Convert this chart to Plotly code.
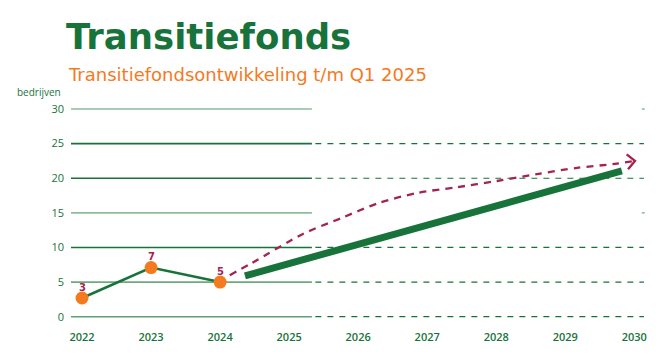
import plotly.graph_objects as go

# ---------------- data ----------------
years_actual = [2022, 2023, 2024]
values_actual = [2.7, 7.1, 5.0]
labels_actual = ["3", "7", "5"]

target_years = [2024.36, 2029.82]
target_values = [5.9, 21.05]

forecast_years = [2024.14, 2024.46, 2025.2, 2025.77, 2026.29, 2026.87, 2027.43,
                  2028.01, 2028.59, 2029.17, 2029.72, 2030.01]
forecast_values = [6.0, 7.75, 11.95, 14.3, 16.4, 17.9, 18.7, 19.6, 20.6, 21.5, 22.07, 22.5]

y_ticks = [0, 5, 10, 15, 20, 25, 30]
x_ticks = [2022, 2023, 2024, 2025, 2026, 2027, 2028, 2029, 2030]
title = "Transitiefonds"
subtitle = "Transitiefondsontwikkeling t/m Q1 2025"
y_label = "bedrijven"

# ---------------- style ----------------
GREEN = "#17733a"
LIGHT = "#8dbd9b"
ORANGE = "#f47a1f"
CRIMSON = "#a52350"
grid_color = {0: "#5fa174", 5: "#6eaa80", 10: GREEN, 15: LIGHT, 20: GREEN, 25: GREEN, 30: LIGHT}
grid_dashed = {0: True, 5: True, 10: True, 15: False, 20: True, 25: True, 30: False}
X0, XSPLIT, X1 = 2021.84, 2025.33, 2030.17

fig = go.Figure()

shapes = []
for v in y_ticks:
    shapes.append(dict(type="line", xref="x", yref="y", x0=X0, x1=XSPLIT, y0=v, y1=v,
                       line=dict(color=grid_color[v], width=1.6), layer="below"))
    if grid_dashed[v]:
        shapes.append(dict(type="line", xref="x", yref="y", x0=XSPLIT + 0.05, x1=X1 - 0.03, y0=v, y1=v,
                           line=dict(color=GREEN, width=1.2, dash="6px,6px"), layer="below"))
    else:
        shapes.append(dict(type="line", xref="x", yref="y", x0=X1 - 0.06, x1=X1 - 0.02, y0=v, y1=v,
                           line=dict(color=LIGHT, width=1.6), layer="below"))

# forecast dashed curve
fig.add_trace(go.Scatter(x=forecast_years, y=forecast_values, mode="lines",
                         line=dict(color=CRIMSON, width=2.3, dash="7px,6px", shape="spline", smoothing=0.8),
                         hoverinfo="skip", showlegend=False))
# open chevron arrow head at the end of the forecast curve
tip_x, tip_y = forecast_years[-1], forecast_values[-1]
fig.add_trace(go.Scatter(x=[tip_x - 0.12, tip_x, tip_x - 0.1], y=[tip_y + 0.95, tip_y, tip_y - 1.2],
                         mode="lines", line=dict(color=CRIMSON, width=2.4),
                         hoverinfo="skip", showlegend=False))

# target thick line
fig.add_trace(go.Scatter(x=target_years, y=target_values, mode="lines",
                         line=dict(color=GREEN, width=7), hoverinfo="skip", showlegend=False))

# actual values
fig.add_trace(go.Scatter(x=years_actual, y=values_actual, mode="lines+markers",
                         line=dict(color=GREEN, width=2.5),
                         marker=dict(color=ORANGE, size=13),
                         showlegend=False))

annotations = [
    dict(text=title, xref="paper", yref="paper", x=(64 - 71) / 575, y=1 + (100 - 37) / 225,
         xanchor="left", yanchor="middle", showarrow=False,
         font=dict(family="DejaVu Sans", size=35.5, color=GREEN, weight="bold")),
    dict(text=subtitle, xref="paper", yref="paper", x=(66 - 71) / 575, y=1 + (100 - 75) / 225,
         xanchor="left", yanchor="middle", showarrow=False,
         font=dict(family="DejaVu Sans", size=18, color=ORANGE)),
    dict(text=y_label, xref="paper", yref="paper", x=(63 - 71) / 575, y=1 + (100 - 92) / 225,
         xanchor="right", yanchor="middle", showarrow=False,
         font=dict(family="Open Sans", size=10, color=GREEN)),
]
for xv, yv, lab in zip(years_actual, values_actual, labels_actual):
    annotations.append(dict(text=lab, x=xv, y=yv, xref="x", yref="y", showarrow=False,
                            yanchor="middle", yshift=11,
                            font=dict(family="DejaVu Sans", size=10, color=CRIMSON, weight="bold")))

fig.update_layout(
    width=668, height=363,
    margin=dict(l=71, r=22, t=100, b=38),
    paper_bgcolor="white", plot_bgcolor="white",
    font=dict(family="Open Sans", color=GREEN),
    shapes=shapes,
    xaxis=dict(range=[X0, X1], tickvals=x_ticks, ticktext=[str(t) for t in x_ticks],
               showgrid=False, zeroline=False, showline=False,
               tickfont=dict(size=11, color=GREEN, weight=600), ticklabelstandoff=4),
    yaxis=dict(range=[-1.2, 31.3], tickvals=y_ticks, showgrid=False, zeroline=False, showline=False,
               tickfont=dict(size=11, color=GREEN), ticklabelstandoff=6),
    annotations=annotations,
)

fig.write_html("out.html")
